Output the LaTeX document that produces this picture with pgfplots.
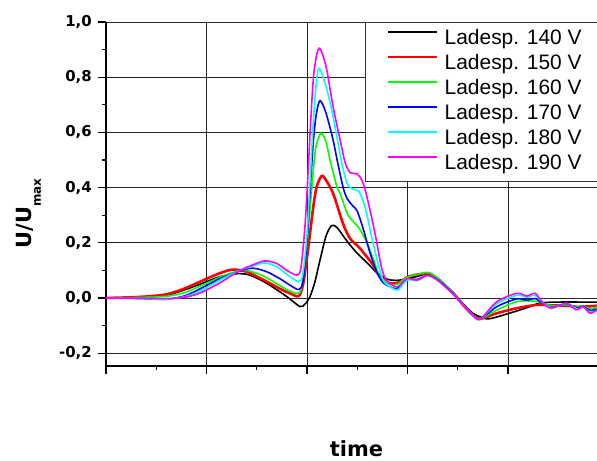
\documentclass[border=0pt]{standalone}
\usepackage{fontspec}
\setmainfont{Liberation Sans}
\newfontfamily\dejavu{DejaVu Sans}
\usepackage{pgfplots}
\pgfplotsset{compat=1.18}
\definecolor{cgreen}{RGB}{0,255,0}
\definecolor{cblue}{RGB}{0,0,255}
\definecolor{ccyan}{RGB}{0,255,255}
\definecolor{cmag}{RGB}{255,0,255}
\begin{document}
\begin{tikzpicture}
\begin{axis}[
  scale only axis, width=491bp, height=344bp,
  xmin=0, xmax=4.886, ymin=-0.2464, ymax=1.0,
  axis x line*=bottom, axis y line*=left,
  axis line style={black, line width=1.2pt},
  xtick={0,1,2,3,4}, xticklabels={},
  minor x tick num=1,
  ytick={-0.2,0,0.2,0.4,0.6,0.8,1.0},
  yticklabels={{-0,2},{0,0},{0,2},{0,4},{0,6},{0,8},{1,0}},
  minor y tick num=1,
  tick align=outside,
  major tick length=8bp, minor tick length=4bp,
  tick style={black, line width=1.1pt},
  yticklabel style={font=\fontsize{15}{15}\selectfont\dejavu\bfseries, inner sep=0pt, xshift=-6bp},
  grid=major,
  major grid style={black!85, line width=0.8pt},
  xlabel={time},
  xlabel style={font=\fontsize{21}{21}\selectfont\dejavu\bfseries, at={(axis description cs:0.51,0)}, anchor=base, yshift=-90bp},
  ylabel={U/U\raisebox{-9bp}{\fontsize{12}{12}\selectfont max}},
  ylabel style={font=\fontsize{21}{21}\selectfont\dejavu\bfseries, at={(axis description cs:0,0.443)}, anchor=base, yshift=74bp},
  legend style={at={(1,1)}, anchor=north east, xshift=7bp,
    draw=black!80, line width=0.8pt, fill=white,
    font=\fontsize{21}{21}\selectfont,
    inner xsep=22bp, inner ysep=7bp,
    nodes={inner sep=0pt, text height=15bp, text depth=5bp},
    row sep=5bp, column sep=6bp},
  legend cell align=left,
  legend image code/.code={\draw[#1] (0bp,7.5bp) -- (49bp,7.5bp);},
]
\addplot[black, line width=1.6pt, smooth] coordinates {
(0,0) (0.338,0.002) (0.597,0.01) (0.786,0.03) (0.935,0.05) (1.134,0.077) (1.30,0.088) (1.43,0.083) (1.60,0.053) (1.80,0.005) (1.93,-0.031) (1.98,-0.022) (2.03,0.005) (2.08,0.06) (2.13,0.138) (2.19,0.225) (2.245,0.262) (2.30,0.255) (2.40,0.205) (2.50,0.162) (2.60,0.127) (2.70,0.09) (2.80,0.068) (2.90,0.064) (2.995,0.07) (3.095,0.078) (3.194,0.088) (3.254,0.082) (3.323,0.065) (3.45,0.02) (3.55,-0.02) (3.65,-0.055) (3.75,-0.072) (3.82,-0.075) (3.99,-0.058) (4.19,-0.035) (4.29,-0.021) (4.45,-0.015) (4.886,-0.015)
};
\addlegendentry{Ladesp. 140 V}
\addplot[red, line width=2.6pt, smooth] coordinates {
(0,0) (0.338,0.004) (0.597,0.013) (0.786,0.035) (0.935,0.059) (1.134,0.09) (1.264,0.103) (1.40,0.095) (1.50,0.078) (1.602,0.059) (1.75,0.03) (1.861,0.012) (1.90,0.006) (1.93,0.012) (1.963,0.053) (1.997,0.138) (2.03,0.234) (2.063,0.331) (2.096,0.403) (2.146,0.442) (2.18,0.432) (2.26,0.379) (2.358,0.27) (2.428,0.216) (2.527,0.18) (2.657,0.12) (2.726,0.077) (2.826,0.053) (2.925,0.058) (2.995,0.075) (3.095,0.085) (3.194,0.088) (3.254,0.077) (3.323,0.06) (3.45,0.02) (3.552,-0.025) (3.65,-0.062) (3.721,-0.076) (3.891,-0.055) (4.09,-0.037) (4.289,-0.025) (4.438,-0.027) (4.587,-0.028) (4.687,-0.032) (4.816,-0.03) (4.886,-0.028)
};
\addlegendentry{Ladesp. 150 V}
\addplot[color=cgreen, line width=1.6pt, smooth] coordinates {
(0,0) (0.338,0.002) (0.597,0.006) (0.786,0.02) (0.935,0.043) (1.134,0.075) (1.30,0.097) (1.40,0.1) (1.532,0.085) (1.662,0.06) (1.80,0.03) (1.90,0.017) (1.94,0.03) (1.98,0.12) (2.02,0.28) (2.06,0.45) (2.09,0.55) (2.14,0.597) (2.19,0.565) (2.229,0.5) (2.30,0.40) (2.33,0.379) (2.40,0.307) (2.45,0.281) (2.52,0.252) (2.60,0.198) (2.68,0.12) (2.726,0.075) (2.826,0.05) (2.90,0.05) (2.995,0.075) (3.095,0.085) (3.194,0.093) (3.254,0.085) (3.323,0.065) (3.45,0.02) (3.552,-0.025) (3.65,-0.062) (3.721,-0.077) (3.891,-0.043) (4.09,-0.013) (4.27,-0.012) (4.348,-0.02) (4.438,-0.028) (4.587,-0.025) (4.687,-0.033) (4.746,-0.028) (4.816,-0.04) (4.886,-0.032)
};
\addlegendentry{Ladesp. 160 V}
\addplot[color=cblue, line width=1.6pt, smooth] coordinates {
(0,0) (0.338,-0.002) (0.597,-0.005) (0.786,0.008) (0.935,0.033) (1.134,0.07) (1.333,0.098) (1.463,0.108) (1.60,0.095) (1.73,0.07) (1.85,0.042) (1.92,0.031) (1.96,0.06) (2.0,0.2) (2.03,0.38) (2.06,0.55) (2.09,0.66) (2.13,0.715) (2.19,0.669) (2.26,0.572) (2.30,0.5) (2.36,0.40) (2.40,0.36) (2.46,0.332) (2.50,0.315) (2.56,0.25) (2.63,0.16) (2.70,0.09) (2.76,0.055) (2.83,0.04) (2.90,0.035) (2.995,0.068) (3.095,0.067) (3.194,0.082) (3.254,0.076) (3.323,0.06) (3.45,0.018) (3.552,-0.025) (3.65,-0.062) (3.721,-0.077) (3.891,-0.031) (4.09,-0.003) (4.189,-0.008) (4.27,-0.002) (4.348,-0.02) (4.438,-0.033) (4.587,-0.022) (4.687,-0.036) (4.746,-0.03) (4.816,-0.045) (4.886,-0.04)
};
\addlegendentry{Ladesp. 170 V}
\addplot[color=ccyan, line width=1.6pt, smooth] coordinates {
(0,0) (0.338,-0.002) (0.597,-0.004) (0.786,0.005) (0.935,0.025) (1.134,0.065) (1.333,0.1) (1.532,0.124) (1.602,0.126) (1.70,0.113) (1.82,0.08) (1.92,0.059) (1.96,0.09) (2.0,0.23) (2.03,0.42) (2.06,0.62) (2.09,0.77) (2.12,0.832) (2.19,0.766) (2.26,0.657) (2.34,0.5) (2.40,0.415) (2.46,0.394) (2.52,0.385) (2.585,0.319) (2.65,0.21) (2.716,0.113) (2.766,0.059) (2.86,0.033) (2.91,0.03) (2.995,0.065) (3.095,0.063) (3.194,0.08) (3.254,0.074) (3.323,0.057) (3.45,0.015) (3.552,-0.025) (3.65,-0.062) (3.721,-0.077) (3.891,-0.02) (4.09,0.01) (4.189,0.003) (4.27,0.01) (4.348,-0.017) (4.438,-0.035) (4.587,-0.02) (4.687,-0.04) (4.746,-0.033) (4.816,-0.05) (4.886,-0.045)
};
\addlegendentry{Ladesp. 180 V}
\addplot[color=cmag, line width=1.6pt, smooth] coordinates {
(0,0) (0.338,-0.001) (0.597,-0.002) (0.786,0.003) (0.935,0.018) (1.134,0.055) (1.333,0.1) (1.532,0.13) (1.60,0.134) (1.70,0.125) (1.80,0.1) (1.90,0.083) (1.94,0.11) (1.98,0.26) (2.01,0.45) (2.04,0.66) (2.07,0.82) (2.12,0.905) (2.19,0.838) (2.26,0.693) (2.33,0.572) (2.38,0.49) (2.43,0.454) (2.50,0.449) (2.56,0.415) (2.627,0.319) (2.69,0.21) (2.74,0.113) (2.79,0.065) (2.896,0.04) (2.995,0.07) (3.095,0.065) (3.194,0.082) (3.254,0.075) (3.323,0.058) (3.45,0.015) (3.552,-0.025) (3.65,-0.06) (3.721,-0.077) (3.891,-0.013) (4.09,0.017) (4.189,0.007) (4.269,0.017) (4.348,-0.017) (4.43,-0.037) (4.58,-0.019) (4.68,-0.043) (4.746,-0.031) (4.816,-0.055) (4.886,-0.043)
};
\addlegendentry{Ladesp. 190 V}
\end{axis}
\pgfresetboundingbox
\path (-106bp,-95bp) rectangle (491bp,366bp);
\end{tikzpicture}
\end{document}
